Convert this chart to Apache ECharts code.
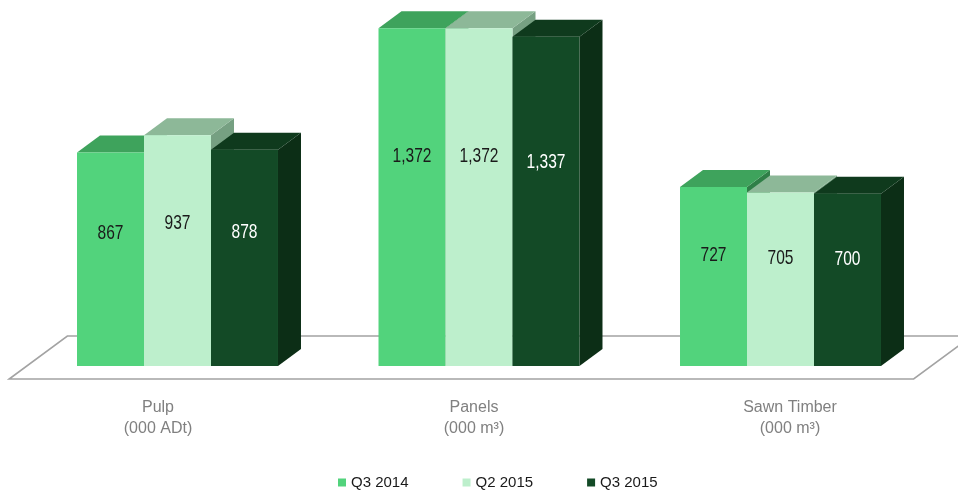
<!DOCTYPE html>
<html>
<head>
<meta charset="utf-8">
<script src="https://cdn.jsdelivr.net/npm/echarts@6/dist/echarts.min.js"></script>
<style>
html,body{margin:0;padding:0;background:#fff;}
#chart{width:958px;height:491px;}
</style>
</head>
<body>
<div id="chart"></div>
<script>
// ---- data ----
const categories = ['Pulp\n(000 ADt)', 'Panels\n(000 m³)', 'Sawn Timber\n(000 m³)'];
const seriesNames = ['Q3 2014', 'Q2 2015', 'Q3 2015'];
const q3_2014 = [867, 1372, 727];
const q2_2015 = [937, 1372, 705];
const q3_2015 = [878, 1337, 700];
const seriesValues = [q3_2014, q2_2015, q3_2015];

// ---- styles ----
const FONT = '"Liberation Sans", Arial, sans-serif';
const palette = [
  {front: '#52d37c', top: '#3ea35c', side: '#2f7f47', label: '#1a1a1a'},
  {front: '#bdefcc', top: '#8db898', side: '#76a082', label: '#1a1a1a'},
  {front: '#134a26', top: '#0f3a1d', side: '#0c2e16', label: '#ffffff'}
];
const BAR_FRAC = 0.2222;
const DX = 23, DY = 17;

function fmt(v) { return v.toLocaleString('en-US'); }

function barRenderer(si) {
  return function (params, api) {
    const cat = api.value(0), val = api.value(1);
    const top = api.coord([cat, val]);
    const base = api.coord([cat, 0]);
    const band = api.size([1, 0])[0];
    const w = band * BAR_FRAC;
    const x0 = top[0] - 1.5 * w + si * w;
    const x1 = x0 + w;
    const yt = top[1], yb = base[1];
    const p = palette[si];
    const h = yb - yt;
    return {
      type: 'group',
      children: [
        {type: 'polygon', shape: {points: [[x1, yt], [x1 + DX, yt - DY], [x1 + DX, yb - DY], [x1, yb]]},
         style: {fill: p.side}},
        {type: 'polygon', shape: {points: [[x0, yt], [x1, yt], [x1 + DX, yt - DY], [x0 + DX, yt - DY]]},
         style: {fill: p.top}},
        {type: 'rect', shape: {x: x0, y: yt, width: w, height: h}, style: {fill: p.front}},
        {type: 'text', x: x0 + w / 2, y: yt + h * 0.38, scaleX: 0.74,
         style: {text: fmt(val), fill: p.label, align: 'center', verticalAlign: 'middle',
                 font: '21px ' + FONT}}
      ]
    };
  };
}

function floorRenderer(params, api) {
  const cs = params.coordSys;
  const zeroY = api.coord([0, 0])[1];
  const fy = zeroY + 13, by = zeroY - 30;
  const left = cs.x, right = cs.x + cs.width;
  return {
    type: 'polygon',
    shape: {points: [[left - 17.6, fy], [right - 17.6, fy], [right + 40.6, by], [left + 40.6, by]]},
    style: {fill: '#ffffff', stroke: '#a3a3a3', lineWidth: 1.6}
  };
}

const series = [{
  type: 'custom', name: 'floor', silent: true, xAxisIndex: 0, yAxisIndex: 0,
  renderItem: floorRenderer, data: [[0, 0]], encode: {x: 0, y: 1}
}];
seriesNames.forEach((name, si) => {
  series.push({
    type: 'custom', name: name, xAxisIndex: 0, yAxisIndex: 0,
    itemStyle: {color: palette[si].front},
    renderItem: barRenderer(si),
    encode: {x: 0, y: 1},
    data: seriesValues[si].map((v, i) => [i, v])
  });
});

const chart = echarts.init(document.getElementById('chart'));
chart.setOption({
  animation: false,
  backgroundColor: '#ffffff',
  grid: [
    {left: 26.75, width: 904.5, top: 21.3, height: 344.7},
    {left: -4, width: 952, top: 21.3, height: 344.7}
  ],
  xAxis: [
    {type: 'category', gridIndex: 0, data: categories, show: false},
    {type: 'category', gridIndex: 1, data: categories,
     axisLine: {show: false}, axisTick: {show: false},
     axisLabel: {margin: 31, color: '#808080', fontFamily: FONT, fontSize: 16, lineHeight: 21}}
  ],
  yAxis: [
    {type: 'value', gridIndex: 0, min: 0, max: 1400, show: false},
    {type: 'value', gridIndex: 1, min: 0, max: 1400, show: false}
  ],
  legend: {
    data: seriesNames, left: 333, top: 470, icon: 'rect', itemWidth: 8, itemHeight: 8, itemGap: 54,
    textStyle: {color: '#1a1a1a', fontFamily: FONT, fontSize: 15}
  },
  series: series
});
</script>
</body>
</html>
